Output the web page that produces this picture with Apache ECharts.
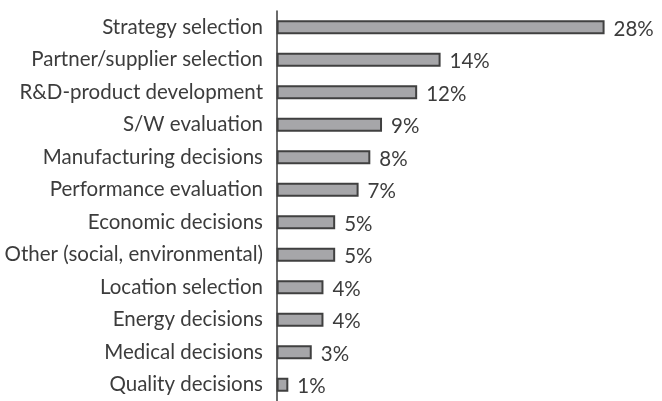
<!DOCTYPE html>
<html>
<head>
<meta charset="utf-8">
<script src="https://cdn.jsdelivr.net/npm/echarts@6/dist/echarts.min.js"></script>
<style>html,body{margin:0;padding:0;background:#fff}#c{width:662px;height:401px}</style>
</head>
<body>
<div id="c"></div>
<script>
const categories = ["Strategy selection","Partner/supplier selection","R&D-product development","S/W evaluation","Manufacturing decisions","Performance evaluation","Economic decisions","Other (social, environmental)","Location selection","Energy decisions","Medical decisions","Quality decisions"];
const values = [28,14,12,9,8,7,5,5,4,4,3,1];

const chart = echarts.init(document.getElementById('c'), null, {renderer:'canvas'});
chart.setOption({
  animation:false,
  grid:{left:269, top:11, width:359, height:394, containLabel:false},
  xAxis:{type:'value', min:-0.65, max:30, show:false},
  yAxis:{type:'category', data:categories, inverse:true,
    axisLine:{show:true, lineStyle:{color:'#3a3a3a', width:1.5}},
    axisTick:{show:false},
    axisLabel:{color:'#3c3c3c', fontFamily:'Lato', fontSize:20.5, margin:6}
  },
  series:[{type:'bar', data:values, barWidth:14,
    itemStyle:{color:'#a6a6a9', borderColor:'#404040', borderWidth:2},
    label:{show:true, position:'right', distance:9, formatter:'{c}%', color:'#3c3c3c', fontFamily:'Lato', fontSize:20.5, offset:[0,2]}
  }]
});
</script>
</body>
</html>
